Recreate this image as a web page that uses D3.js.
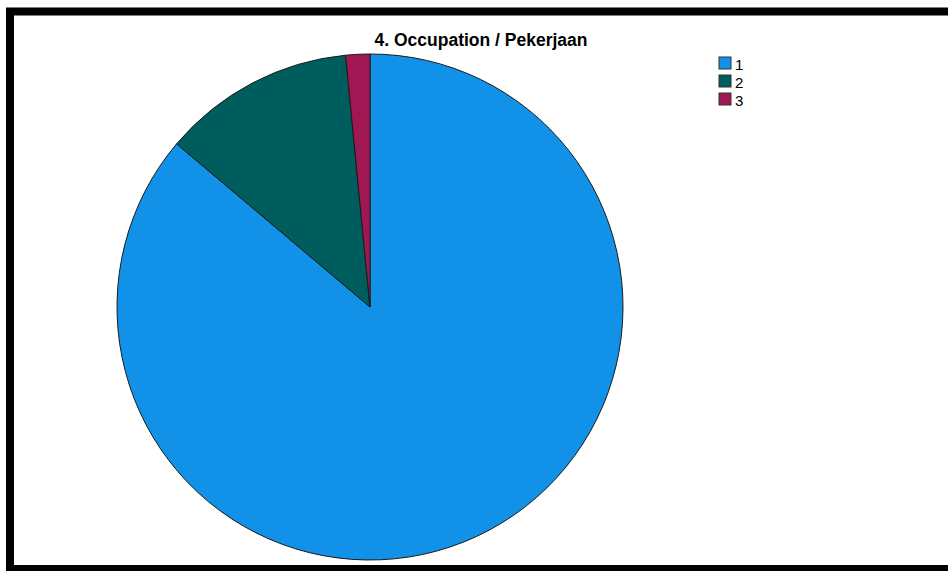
<!DOCTYPE html>
<html>
<head>
<meta charset="utf-8">
<script src="https://cdn.jsdelivr.net/npm/d3@7"></script>
<style>
  html, body { margin: 0; padding: 0; background: #fff; }
  svg { display: block; }
</style>
</head>
<body>
<svg id="chart" width="948" height="571"></svg>
<script>
const title = "4. Occupation / Pekerjaan";
const categories = ["1", "2", "3"];
const counts = [56, 8, 1];
const colors = ["#1192e8", "#005d5d", "#9f1853"];

const svg = d3.select("#chart");
const W = 948, H = 571;

svg.append("rect").attr("x", 0).attr("y", 0).attr("width", W).attr("height", H).attr("fill", "#fff");

// outer frame
svg.append("rect")
  .attr("x", 10).attr("y", 11.5)
  .attr("width", 960).attr("height", 557.5)
  .attr("fill", "none").attr("stroke", "#000").attr("stroke-width", 8);

// title
svg.append("text")
  .attr("x", 481).attr("y", 46)
  .attr("text-anchor", "middle")
  .attr("font-family", "Liberation Sans, Arial, sans-serif")
  .attr("font-weight", "bold")
  .attr("font-size", 17.5)
  .attr("fill", "#000")
  .text(title);

// pie
const cx = 370, cy = 307, r = 253;
const data = categories.map((c, i) => ({ cat: c, value: counts[i], color: colors[i] }));
const pie = d3.pie().value(d => d.value).sort(null);
const arc = d3.arc().innerRadius(0).outerRadius(r);
const g = svg.append("g").attr("transform", `translate(${cx},${cy})`);
g.selectAll("path").data(pie(data)).join("path")
  .attr("d", arc)
  .attr("fill", d => d.data.color)
  .attr("stroke", "#1a1a1a")
  .attr("stroke-width", 1)
  .attr("stroke-linejoin", "round");

// legend
const color = d3.scaleOrdinal().domain(categories).range(colors);
const legY = d3.scaleBand().domain(categories).range([57, 111]).paddingInner(0);
const leg = svg.append("g");
const items = leg.selectAll("g").data(categories).join("g")
  .attr("transform", d => `translate(719,${legY(d)})`);
items.append("rect")
  .attr("x", 0).attr("y", 0).attr("width", 12).attr("height", 12)
  .attr("fill", d => color(d))
  .attr("stroke", "#333").attr("stroke-width", 1);
items.append("text")
  .attr("x", 16).attr("y", 12.5)
  .attr("font-family", "Liberation Sans, Arial, sans-serif")
  .attr("font-size", 15)
  .attr("fill", "#000")
  .text(d => d);
</script>
</body>
</html>
